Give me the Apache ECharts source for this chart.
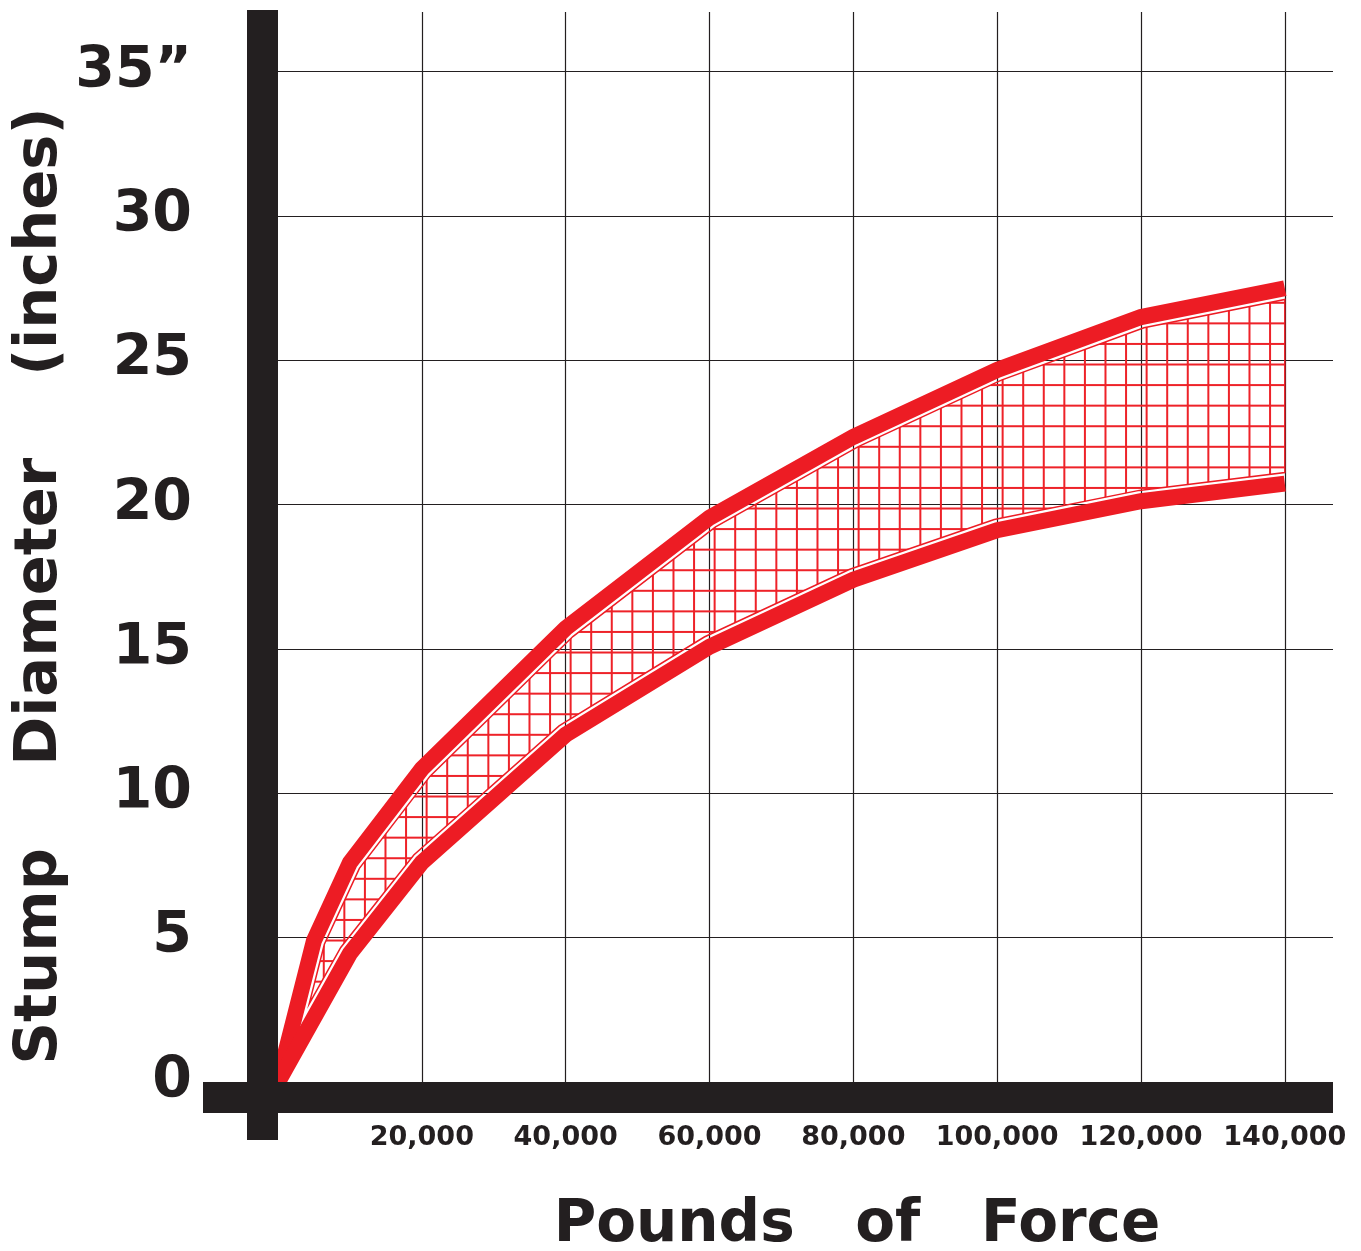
<!DOCTYPE html>
<html><head><meta charset="utf-8">
<script src="https://cdn.jsdelivr.net/npm/echarts@6/dist/echarts.min.js"></script>
<style>html,body{margin:0;padding:0;background:#fff}#c{width:1361px;height:1251px}</style>
</head><body><div id="c"></div>
<script>
// ---- data ----
const forceUpper = [0, 5000, 10000, 20000, 40000, 60000, 80000, 100000, 120000, 140000];
const diameterUpper = [0, 4.9, 7.6, 10.85, 15.72, 19.55, 22.35, 24.67, 26.5, 27.5];
const forceLower = [0, 10000, 20000, 40000, 60000, 80000, 100000, 120000, 140000];
const diameterLower = [0, 4.45, 7.6, 12.03, 15.08, 17.4, 19.12, 20.12, 20.73];
const xTickValues = [20000, 40000, 60000, 80000, 100000, 120000, 140000];
const xTickLabels = ['20,000', '40,000', '60,000', '80,000', '100,000', '120,000', '140,000'];
const yTickValues = [0, 5, 10, 15, 20, 25, 30, 35];
const yTickLabels = ['0', '5', '10', '15', '20', '25', '30', '35\u201D'];
const xTitle = 'Pounds   of   Force';
const yTitle = 'Stump    Diameter    (inches)';
const xMax = 146700, yMax = 37.07;

const RED = '#ed1c24', INK = '#231f20';

// hatch pattern
function makeHatch() {
  const S = 144, n = 7, step = S / n;
  const cv = document.createElement('canvas');
  cv.width = S; cv.height = S;
  const ctx = cv.getContext('2d');
  ctx.fillStyle = '#ee2229';
  for (let k = 0; k < n; k++) {
    const vx = 15.2 + k * step;
    ctx.fillRect(vx - 1, 0, 2, S);
    const hy = 14.8 + k * step;
    ctx.fillRect(0, hy - 1, S, 2);
  }
  return cv;
}
const hatch = makeHatch();

function inter(a1, a2, b1, b2) {
  const d1x = a2[0] - a1[0], d1y = a2[1] - a1[1];
  const d2x = b2[0] - b1[0], d2y = b2[1] - b1[1];
  const den = d1x * d2y - d1y * d2x;
  if (Math.abs(den) < 1e-9) return [a2[0], a2[1]];
  const t = ((b1[0] - a1[0]) * d2y - (b1[1] - a1[1]) * d2x) / den;
  return [a1[0] + t * d1x, a1[1] + t * d1y];
}
function offsetSegs(pts, d, side) {
  const segs = [];
  for (let i = 0; i < pts.length - 1; i++) {
    const dx = pts[i + 1][0] - pts[i][0], dy = pts[i + 1][1] - pts[i][1];
    const L = Math.hypot(dx, dy) || 1;
    const nx = side * (-dy / L) * d, ny = side * (dx / L) * d;
    segs.push([[pts[i][0] + nx, pts[i][1] + ny], [pts[i + 1][0] + nx, pts[i + 1][1] + ny]]);
  }
  return segs;
}

function renderBand(params, api) {
  const up = forceUpper.map((f, i) => api.coord([f, diameterUpper[i]]));
  const lo = forceLower.map((f, i) => api.coord([f, diameterLower[i]]));
  const d = 11;
  const su = offsetSegs(up, d, 1), sl = offsetSegs(lo, d, -1);
  const start = inter(su[0][0], su[0][1], sl[0][0], sl[0][1]);
  const xEnd = up[up.length - 1][0];
  const vA = [xEnd, 0], vB = [xEnd, 2000];
  const ui = [start];
  for (let i = 1; i < su.length; i++) ui.push(inter(su[i - 1][0], su[i - 1][1], su[i][0], su[i][1]));
  ui.push(inter(su[su.length - 1][0], su[su.length - 1][1], vA, vB));
  const li = [];
  for (let i = 1; i < sl.length; i++) li.push(inter(sl[i - 1][0], sl[i - 1][1], sl[i][0], sl[i][1]));
  li.push(inter(sl[sl.length - 1][0], sl[sl.length - 1][1], vA, vB));
  const poly = ui.concat(li.reverse());
  return {
    type: 'group',
    children: [
      { type: 'polygon', shape: { points: poly },
        style: { fill: { image: hatch, repeat: 'repeat' }, stroke: RED, lineWidth: 1.5, lineJoin: 'miter' } },
      { type: 'polyline', shape: { points: up },
        style: { fill: null, stroke: RED, lineWidth: 16, lineJoin: 'miter', lineCap: 'butt' } },
      { type: 'polyline', shape: { points: lo },
        style: { fill: null, stroke: RED, lineWidth: 16, lineJoin: 'miter', lineCap: 'butt' } }
    ]
  };
}

function renderFrame(params, api) {
  const o = api.coord([0, 0]);
  const t = api.coord([0, yMax]);
  const r = api.coord([xMax, 0]);
  return {
    type: 'group',
    children: [
      { type: 'rect', shape: { x: o[0] - 31, y: t[1] - 2, width: 31, height: (o[1] + 58) - (t[1] - 2) }, style: { fill: INK } },
      { type: 'rect', shape: { x: o[0] - 75, y: o[1], width: r[0] - (o[0] - 75), height: 31 }, style: { fill: INK } }
    ]
  };
}

const chart = echarts.init(document.getElementById('c'), null, { renderer: 'canvas' });
chart.setOption({
  animation: false,
  backgroundColor: '#ffffff',
  grid: { left: 278, top: 12, right: 28, bottom: 169, containLabel: false },
  xAxis: {
    type: 'value', min: 0, max: xMax, interval: 20000,
    axisLine: { show: false }, axisTick: { show: false },
    splitLine: { show: true, showMinLine: false, showMaxLine: false, lineStyle: { color: INK, width: 1.2 } },
    axisLabel: {
      margin: 42, color: INK, fontFamily: 'DejaVu Sans', fontWeight: 'bold', fontSize: 27,
      formatter: v => { const i = xTickValues.indexOf(v); return i < 0 ? '' : xTickLabels[i]; }
    }
  },
  yAxis: {
    type: 'value', min: 0, max: yMax, interval: 5,
    axisLine: { show: false }, axisTick: { show: false },
    splitLine: { show: true, showMinLine: false, showMaxLine: false, lineStyle: { color: INK, width: 1.2 } },
    axisLabel: {
      margin: 86, color: INK, fontFamily: 'DejaVu Sans', fontWeight: 'bold', fontSize: 57,
      formatter: v => { const i = yTickValues.indexOf(v); return i < 0 ? '' : yTickLabels[i]; }
    }
  },
  graphic: [
    { type: 'text', x: 857, y: 1226, style: { text: xTitle, fill: INK, font: 'bold 58px "DejaVu Sans"', textAlign: 'center', textVerticalAlign: 'middle' } },
    { type: 'text', x: 41, y: 586, rotation: Math.PI / 2, style: { text: yTitle, fill: INK, font: 'bold 59px "DejaVu Sans"', textAlign: 'center', textVerticalAlign: 'middle' } }
  ],
  series: [
    { type: 'custom', name: 'band', coordinateSystem: 'cartesian2d', data: [[0, 0]], renderItem: renderBand, z: 3, clip: false, silent: true },
    { type: 'custom', name: 'frame', coordinateSystem: 'cartesian2d', data: [[0, 0]], renderItem: renderFrame, z: 5, clip: false, silent: true }
  ]
});
</script>
</body></html>
